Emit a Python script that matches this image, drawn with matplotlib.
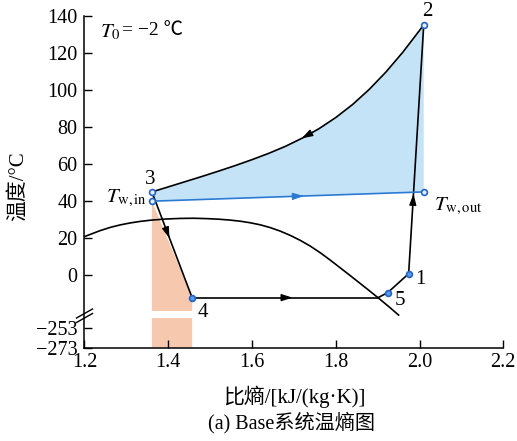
import numpy as np
import matplotlib
matplotlib.use("Agg")
import matplotlib.pyplot as plt

plt.rcParams['font.family'] = ['Liberation Serif', 'Noto Sans CJK SC']
plt.rcParams['mathtext.fontset'] = 'stix'
plt.rcParams['axes.unicode_minus'] = True

# --- datos: curva de saturación, condensación y estados del ciclo ---
dome_s = [1.200, 1.237, 1.262, 1.285, 1.310, 1.333, 1.360, 1.395, 1.428, 1.460,
          1.492, 1.520, 1.548, 1.572, 1.595, 1.619, 1.643, 1.667, 1.691, 1.715,
          1.739, 1.763, 1.787, 1.811, 1.835, 1.858, 1.882, 1.905, 1.928, 1.950]
dome_T = [20.9, 24.1, 25.9, 27.2, 28.3, 29.1, 29.8, 30.4, 30.7, 30.8,
          30.6, 30.3, 29.8, 29.2, 28.4, 27.3, 25.8, 23.9, 21.6, 18.9,
          15.8, 12.2, 8.2, 4.0, -0.2, -4.3, -8.6, -12.8, -17.1, -21.4]

cond_s = [2.010, 1.960, 1.920, 1.880, 1.840, 1.800, 1.760, 1.720, 1.680,
          1.640, 1.600, 1.560, 1.520, 1.480, 1.440, 1.400, 1.361]
cond_T = [135.0, 120.3, 109.7, 100.3, 92.1, 85.1, 79.1, 74.0, 69.6,
          65.8, 62.4, 59.2, 56.2, 53.3, 50.5, 47.7, 45.0]

s1, T1 = 1.974, 0.9
s2, T2 = 2.010, 135.0
s3, T3 = 1.361, 45.0
s4, T4 = 1.457, -12.0
s5, T5 = 1.924, -9.3
s_sat, T_sat = 1.901, -12.0        # corte del evaporador con la curva de vapor
s_win, T_win = 1.361, 40.0         # agua de entrada
s_wout, T_wout = 2.010, 45.0       # agua de salida
T_bottom = -273.0

xticks = [1.2, 1.4, 1.6, 1.8, 2.0, 2.2]
yticks = [-273, -253, 0, 20, 40, 60, 80, 100, 120, 140]

# --- eje y partido: lineal arriba, comprimido abajo ---
def fwd(t):
    t = np.asarray(t, dtype=float)
    return np.where(t >= -25, t,
                    np.where(t >= -253, -28.26 + (t + 253) * (3.26 / 228),
                             -28.26 + (t + 253) * 0.536))

def inv(y):
    y = np.asarray(y, dtype=float)
    return np.where(y >= -25, y,
                    np.where(y >= -28.26, -253 + (y + 28.26) * (228 / 3.26),
                             -253 + (y + 28.26) / 0.536))

fig = plt.figure(figsize=(5.17, 4.41), dpi=100)
ax = fig.add_axes([0.1634, 0.2116, 0.8101, 0.7528])
ax.set_yscale('function', functions=(fwd, inv))

blue_fill = '#c4e3f6'
pink_fill = '#f6c8ad'
water_c = '#2a7ad4'
mk_edge = '#2463c8'

# área de calor cedido (azul) y área bajo 3-4 (rosa)
ax.fill([s_win, s_wout] + cond_s, [T_win, T_wout] + cond_T, color=blue_fill, lw=0, zorder=1)
ax.fill([s_win, s4, s4, s_win], [T_win, T4, T_bottom, T_bottom], color=pink_fill, lw=0, zorder=1)
ax.fill_between([s_win - 0.002, s4 + 0.002], -23.2, -19.1, color='white', lw=0, zorder=1.2)

# curva de saturación
ax.plot(dome_s, dome_T, color='k', lw=1.2, zorder=3)

# ciclo
ax.plot(cond_s, cond_T, color='k', lw=1.2, zorder=3)
ax.plot([s1, s2], [T1, T2], color='k', lw=1.2, zorder=3)
ax.plot([s3, s4], [T3, T4], color='k', lw=1.2, zorder=3)
ax.plot([s4, s_sat], [T4, T_sat], color='k', lw=1.2, zorder=3)
ax.plot([s_sat, s5, s1], [T_sat, T5, T1], color='k', lw=1.2, zorder=3)

# agua
ax.plot([s_win, s_wout], [T_win, T_wout], color=water_c, lw=1.2, zorder=3)

# flechas de sentido
def arrow(p_tail, p_head, c='k'):
    ax.annotate('', xy=p_head, xytext=p_tail,
                arrowprops=dict(arrowstyle='-|>,head_length=0.7,head_width=0.22',
                                color=c, lw=0.8, shrinkA=0, shrinkB=0), zorder=4)

arrow((1.745, 77.2), (1.718, 73.8))
arrow((1.3947, 25.0), (1.403, 20.0))
arrow((1.672, -12.0), (1.697, -12.0))
arrow((1.9840, 38.0), (1.9856, 44.0))
wl = lambda s: T_win + (T_wout - T_win) * (s - s_win) / (s_wout - s_win)
arrow((1.698, wl(1.698)), (1.724, wl(1.724)), water_c)

# puntos de estado
ax.plot([s2, s3, s_win, s_wout], [T2, T3, T_win, T_wout], 'o', ms=4.2,
        mfc='#e4effc', mec=mk_edge, mew=1.2, zorder=5, clip_on=False)
ax.plot([s4, s5, s1], [T4, T5, T1], 'o', ms=4.2,
        mfc='#5b9ae6', mec=mk_edge, mew=1.2, zorder=5)

# etiquetas
lab = dict(fontsize=15, ha='center', va='center', zorder=6)
ax.text(2.018, 142.5, '2', clip_on=False, **lab)
ax.text(1.357, 51.5, '3', **lab)
ax.text(1.483, -20.0, '4', **lab)
ax.text(1.953, -13.8, '5', **lab)
ax.text(2.003, -2.0, '1', **lab)
ax.text(1.350, 41.5, r'$T_{\mathrm{w,in}}$', fontsize=15, ha='right', va='center')
ax.text(2.034, 37.0, r'$T_{\mathrm{w,out}}$', fontsize=15, ha='left', va='center')
ax.text(1.237, 131.0, r'$T_0$', fontsize=15, ha='left', va='center')
ax.text(1.290, 131.8, '= −2 ℃', fontsize=14, ha='left', va='center')

# ejes
ax.set_xlim(1.2, 2.2)
ax.set_ylim(T_bottom, 140)
ax.set_xticks(xticks)
ax.set_xticklabels([f'{v:.1f}' for v in xticks])
ax.set_yticks(yticks)
ax.set_yticklabels([str(v).replace('-', '−') for v in yticks])
ax.tick_params(direction='in', length=6, width=1.0, labelsize=14.5)
ax.tick_params(axis='x', pad=4)
ax.tick_params(axis='y', pad=5)
for side in ['top', 'right']:
    ax.spines[side].set_visible(False)
for side in ['left', 'bottom']:
    ax.spines[side].set_linewidth(1.1)

# marcas de corte en el eje y
W, H = 517, 441
for dy in (0, 4.5):
    fig.add_artist(plt.Line2D([76.5 / W, 92.5 / W],
                              [1 - (318 + dy) / H, 1 - (309 + dy) / H],
                              color='k', lw=1.0, transform=fig.transFigure))

fig.text(18 / W, 1 - 186 / H, '温度/°C', rotation=90, fontsize=15, ha='center', va='center')
fig.text(294 / W, 1 - 397 / H, '比熵/[kJ/(kg·K)]', fontsize=15, ha='center', va='center')
fig.text(292 / W, 1 - 423 / H, '(a) Base系统温熵图', fontsize=14.5, ha='center', va='center')

fig.savefig('out.png', dpi=100)
